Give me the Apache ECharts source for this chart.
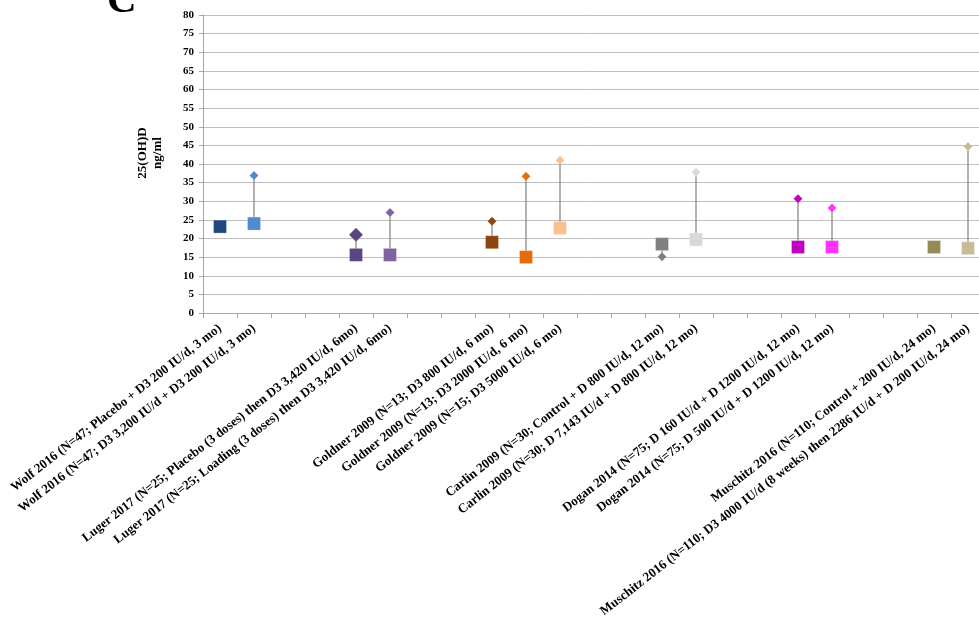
<!DOCTYPE html>
<html>
<head>
<meta charset="utf-8">
<script src="https://cdn.jsdelivr.net/npm/echarts@6/dist/echarts.min.js"></script>
<style>
  html, body { margin: 0; padding: 0; background: #fff; }
  #chart { width: 979px; height: 619px; }
</style>
</head>
<body>
<div id="chart"></div>
<script>
// Study arms along the x axis; blank entries are spacer slots between studies
const categories = [
  'Wolf 2016 (N=47; Placebo + D3 200 IU/d, 3 mo)',
  'Wolf 2016 (N=47; D3 3,200 IU/d + D3 200 IU/d, 3 mo)',
  '', '',
  'Luger 2017 (N=25; Placebo (3 doses) then D3 3,420 IU/d, 6mo)',
  'Luger 2017 (N=25; Loading (3 doses) then D3 3,420 IU/d, 6mo)',
  '', '',
  'Goldner 2009 (N=13; D3 800 IU/d, 6 mo)',
  'Goldner 2009 (N=13; D3 2000 IU/d, 6 mo)',
  'Goldner 2009 (N=15; D3 5000 IU/d, 6 mo)',
  '', '',
  'Carlin 2009 (N=30; Control + D 800 IU/d, 12 mo)',
  'Carlin 2009 (N=30; D 7,143 IU/d + D 800 IU/d, 12 mo)',
  '', '',
  'Dogan 2014 (N=75; D 160 IU/d + D 1200 IU/d, 12 mo)',
  'Dogan 2014 (N=75; D 500 IU/d + D 1200 IU/d, 12 mo)',
  '', '',
  'Muschitz 2016 (N=110; Control + 200 IU/d, 24 mo)',
  'Muschitz 2016 (N=110; D3 4000 IU/d (8 weeks) then 2286 IU/d + D 200 IU/d, 24 mo)'
];

// Baseline 25(OH)D, ng/ml (squares)
const baseline = [
  23.2, 24.0, null, null,
  15.6, 15.6, null, null,
  19.0, 15.0, 22.8, null, null,
  18.5, 19.7, null, null,
  17.7, 17.7, null, null,
  17.7, 17.4
];

// Follow-up 25(OH)D, ng/ml (diamonds)
const followUp = [
  null, 36.9, null, null,
  21.0, 27.0, null, null,
  24.6, 36.7, 41.0, null, null,
  15.1, 37.8, null, null,
  30.7, 28.2, null, null,
  null, 44.7
];

// Y axis ticks
const yTicks = { min: 0, max: 80, step: 5 };

// Per-arm colours
const palette = [
  '#1F497D', '#4F8BD0', null, null,
  '#5B4680', '#8064A2', null, null,
  '#8B4510', '#E46C0A', '#FAC090', null, null,
  '#808080', '#D9D9D9', null, null,
  '#C000C0', '#FF33FF', null, null,
  '#948A54', '#C4BD97'
];
// Diamond marker sizes per arm
const diamondSize = [9, 9, 0, 0, 14, 9, 0, 0, 9, 9, 9, 0, 0, 9, 9, 0, 0, 9, 9, 0, 0, 9, 9];

const serif = '"Liberation Serif", "Times New Roman", serif';

const squarePts = [];
baseline.forEach((v, i) => { if (v != null) squarePts.push([i, v]); });
const diamondPts = [];
followUp.forEach((v, i) => { if (v != null) diamondPts.push([i, v]); });
const stems = [];
baseline.forEach((v, i) => { if (v != null && followUp[i] != null) stems.push([i, v, followUp[i]]); });

const chart = echarts.init(document.getElementById('chart'), null, { renderer: 'canvas' });

chart.setOption({
  animation: false,
  backgroundColor: '#ffffff',
  // plot area runs slightly past the right edge of the canvas
  grid: {
    left: 203, width: 782, top: 15, bottom: 306,
    containLabel: false,
    outerBoundsMode: 'none'
  },
  xAxis: {
    type: 'category',
    data: categories,
    boundaryGap: true,
    axisLine: { show: true, lineStyle: { color: '#A6A6A6', width: 1 } },
    axisTick: { show: true, length: 5, interval: 0, lineStyle: { color: '#A6A6A6' } },
    axisLabel: {
      interval: 0,
      rotate: 38,
      margin: 14,
      fontFamily: serif,
      fontWeight: 'bold',
      fontSize: 13,
      color: '#000'
    },
    splitLine: { show: false }
  },
  yAxis: {
    type: 'value',
    min: yTicks.min,
    max: yTicks.max,
    interval: yTicks.step,
    axisLine: { show: true, lineStyle: { color: '#A6A6A6', width: 1 } },
    axisTick: { show: true, length: 4, lineStyle: { color: '#A6A6A6' } },
    axisLabel: {
      margin: 9,
      fontFamily: serif,
      fontWeight: 'bold',
      fontSize: 11,
      color: '#000'
    },
    splitLine: { show: true, lineStyle: { color: '#BFBFBF', width: 1 } }
  },
  graphic: [
    {
      type: 'text',
      left: 107,
      top: -19,
      style: {
        text: 'C',
        font: 'bold 41px ' + serif,
        fill: '#000'
      }
    },
    {
      type: 'text',
      x: 150,
      y: 153,
      rotation: Math.PI / 2,
      style: {
        text: '25(OH)D\nng/ml',
        font: 'bold 13px ' + serif,
        fill: '#000',
        align: 'center',
        verticalAlign: 'middle',
        lineHeight: 15
      }
    }
  ],
  series: [
    {
      type: 'custom',
      name: 'change',
      z: 1,
      data: stems,
      renderItem: function (params, api) {
        const x = api.value(0);
        const a = api.coord([x, api.value(1)]);
        const b = api.coord([x, api.value(2)]);
        return {
          type: 'line',
          shape: { x1: a[0], y1: a[1], x2: b[0], y2: b[1] },
          style: { stroke: '#808080', lineWidth: 1.2 }
        };
      }
    },
    {
      type: 'scatter',
      name: 'follow-up',
      z: 2,
      symbol: 'diamond',
      symbolSize: function (val) { return [diamondSize[val[0]], diamondSize[val[0]]]; },
      data: diamondPts,
      itemStyle: {
        color: function (p) { return palette[p.value[0]]; },
        borderColor: 'rgba(255,255,255,0.35)',
        borderWidth: 0.5,
        opacity: 1
      }
    },
    {
      type: 'scatter',
      name: 'baseline',
      z: 3,
      symbol: 'rect',
      symbolSize: 13,
      data: squarePts,
      itemStyle: {
        color: function (p) { return palette[p.value[0]]; },
        borderColor: 'rgba(255,255,255,0.35)',
        borderWidth: 0.8,
        opacity: 1
      }
    }
  ]
});
</script>
</body>
</html>
